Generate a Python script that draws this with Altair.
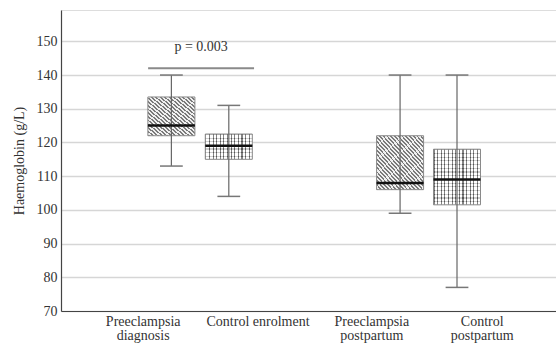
import altair as alt
import pandas as pd

# Haemoglobin box summaries (g/L)
groups = ["Preeclampsia diagnosis", "Control enrolment", "Preeclampsia postpartum", "Control postpartum"]
mins = [113, 104, 99, 77]
q1s = [122, 115, 106, 101.5]
medians = [125, 119, 108, 109]
q3s = [133.5, 122.5, 122, 118]
maxs = [140, 131, 140, 140]

# box centres and category label centres on a 0-100 horizontal scale
box_pos = [22.3, 33.9, 68.5, 80.0]
label_pos = [16.6, 39.8, 62.8, 85.1]
labels = ["Preeclampsia\ndiagnosis", "Control enrolment", "Preeclampsia\npostpartum", "Control\npostpartum"]

# significance bracket
p_text = "p = 0.003"
p_span = [17.6, 39.0]
p_level = 142
p_text_level = 148.4

W, H = 495, 301
Y_DOM = [70, 159.3]
X_DOM = [0, 100]
HALF = 4.75
CAP = 2.3
FONT = "Liberation Serif, Times New Roman, serif"

df = pd.DataFrame({"group": groups, "pos": box_pos, "lo": mins, "q1": q1s,
                   "med": medians, "q3": q3s, "hi": maxs})
df["left"] = df["pos"] - HALF
df["right"] = df["pos"] + HALF
df["capl"] = df["pos"] - CAP
df["capr"] = df["pos"] + CAP

xs = alt.Scale(domain=X_DOM, nice=False, zero=False)
ys = alt.Scale(domain=Y_DOM, nice=False, zero=False)
x_axis = alt.Axis(labels=False, ticks=False, grid=False, domainColor="#444", domainWidth=1.2)
y_axis = alt.Axis(values=list(range(70, 151, 10)), ticks=False, grid=True, gridColor="#d6d6d6",
                  gridWidth=1.5, domainColor="#444", domainWidth=1.2, labelFont=FONT,
                  labelFontSize=14, labelColor="#333", labelPadding=4,
                  titleFont=FONT, titleFontSize=14, titleFontWeight="normal",
                  titleColor="#333", titlePadding=10)
YT = "Haemoglobin (g/L)"


def X(f):
    return alt.X(f, type="quantitative", scale=xs, axis=x_axis, title=None)


def Y(f):
    return alt.Y(f, type="quantitative", scale=ys, axis=y_axis, title=YT)


def stripes(n, dark, light, frac, x1, y1, x2, y2):
    stops = []
    for i in range(n):
        a, b, c = i / n, (i + frac) / n, (i + 1) / n
        stops += [alt.GradientStop(offset=a, color=dark), alt.GradientStop(offset=b, color=dark),
                  alt.GradientStop(offset=b, color=light), alt.GradientStop(offset=c, color=light)]
    return alt.LinearGradient(gradient="linear", stops=stops, x1=x1, y1=y1, x2=x2, y2=y2)


px_per_unit = H / (Y_DOM[1] - Y_DOM[0])
box_w_px = 2 * HALF * W / (X_DOM[1] - X_DOM[0])

layers = []
for i, g in enumerate(groups):
    sub = df.iloc[[i]]
    h_px = (q3s[i] - q1s[i]) * px_per_unit
    enc = dict(x=X("left"), x2="right", y=Y("q1"), y2="q3")
    if g.startswith("Preeclampsia"):
        span = 2 * box_w_px * h_px / (box_w_px ** 2 + h_px ** 2) ** 0.5
        n = max(4, round(span / 2.8))
        grad = stripes(n, "#7a7a7a", "#f0f0f0", 0.45, 0, 1, 1, 0)
        layers.append(alt.Chart(sub).mark_rect(fill=grad).encode(**enc))
    else:
        nh = max(3, round(h_px / 3.6))
        nv = max(3, round(box_w_px / 3.6))
        layers.append(alt.Chart(sub).mark_rect(fill="#ffffff").encode(**enc))
        layers.append(alt.Chart(sub).mark_rect(fill=stripes(nh, "#333", "#ffffff", 0.3, 0, 0, 0, 1),
                                               opacity=0.6).encode(**enc))
        layers.append(alt.Chart(sub).mark_rect(fill=stripes(nv, "#333", "#ffffff", 0.3, 0, 0, 1, 0),
                                               opacity=0.6).encode(**enc))
    layers.append(alt.Chart(sub).mark_rect(fillOpacity=0, stroke="#8a8a8a", strokeWidth=1).encode(**enc))

base = alt.Chart(df)
whisker = base.mark_rule(color="#666", strokeWidth=1.2).encode(x=X("pos"), y=Y("lo"), y2="hi")
cap_hi = base.mark_rule(color="#777", strokeWidth=1.5).encode(x=X("capl"), x2="capr", y=Y("hi"))
cap_lo = base.mark_rule(color="#777", strokeWidth=1.5).encode(x=X("capl"), x2="capr", y=Y("lo"))
median = base.mark_rule(color="#111", strokeWidth=2.5).encode(x=X("left"), x2="right", y=Y("med"))

pdf = pd.DataFrame({"x1": [p_span[0]], "x2": [p_span[1]], "y": [p_level],
                    "xm": [(p_span[0] + p_span[1]) / 2], "yt": [p_text_level], "t": [p_text]})
p_line = alt.Chart(pdf).mark_rule(color="#8a8a8a", strokeWidth=2).encode(x=X("x1"), x2="x2", y=Y("y"))
p_lab = alt.Chart(pdf).mark_text(font=FONT, fontSize=14, color="#333", baseline="middle").encode(
    x=X("xm"), y=Y("yt"), text="t:N")

ldf = pd.DataFrame({"x": label_pos, "y": [Y_DOM[0]] * 4, "t": labels})
x_labels = alt.Chart(ldf).mark_text(font=FONT, fontSize=14, color="#333", baseline="top", dy=4,
                                    lineBreak="\n", lineHeight=14).encode(
    x=X("x"), y=Y("y"), text="t:N")

chart = alt.layer(*layers, whisker, cap_hi, cap_lo, median, p_line, p_lab, x_labels).properties(
    width=W, height=H, autosize=alt.AutoSizeParams(type="none"),
    padding={"left": 61, "top": 10, "right": 0, "bottom": 34},
    background="white",
).configure_view(stroke=None).configure(font=FONT)

chart.save("out.html", embed_options={"renderer": "svg", "actions": False})
